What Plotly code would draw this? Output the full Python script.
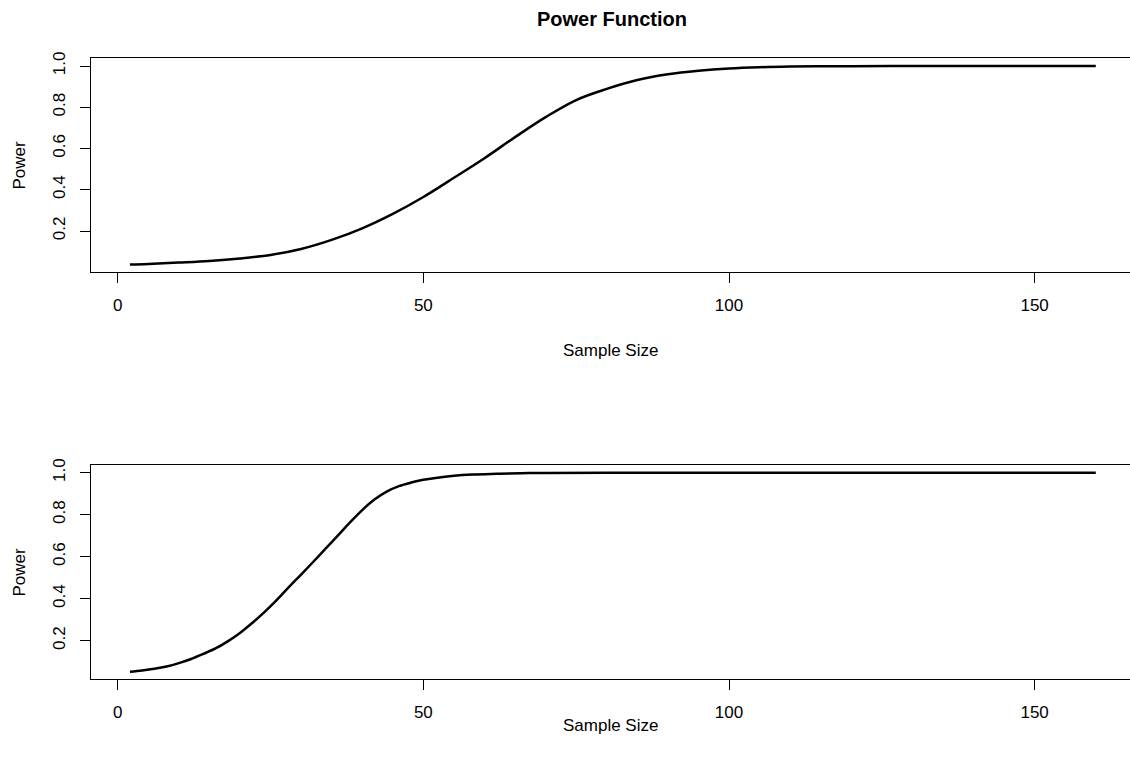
import plotly.graph_objects as go
from plotly.subplots import make_subplots

# Top panel: power vs sample size
n_top = [2, 5, 10, 15, 20, 25, 30, 35, 40, 45, 50, 55, 60, 65, 70, 75, 80, 85, 90, 95, 100, 105, 110, 115, 120, 130, 140, 150, 160]
p_top = [0.037, 0.040, 0.047, 0.055, 0.067, 0.084, 0.113, 0.157, 0.213, 0.283, 0.365, 0.458, 0.553, 0.655, 0.752, 0.835, 0.889, 0.932, 0.960, 0.977, 0.988, 0.994, 0.997, 0.9985, 0.9993, 0.9999, 1.0, 1.0, 1.0]

# Bottom panel: power vs sample size
n_bot = [2, 4, 6, 8, 10, 12, 14, 16, 18, 20, 22, 24, 26, 28, 30, 32, 34, 36, 38, 40, 42, 44, 46, 48, 50, 52, 55, 58, 62, 66, 70, 80, 100, 120, 140, 160]
p_bot = [0.052, 0.058, 0.066, 0.077, 0.093, 0.113, 0.137, 0.163, 0.197, 0.237, 0.284, 0.336, 0.393, 0.455, 0.515, 0.576, 0.638, 0.700, 0.763, 0.822, 0.872, 0.910, 0.936, 0.953, 0.966, 0.975, 0.985, 0.991, 0.995, 0.998, 0.999, 1.0, 1.0, 1.0, 1.0, 1.0]

x_ticks = [0, 50, 100, 150]
y_ticks = [0.2, 0.4, 0.6, 0.8, 1.0]
y_tick_text = ["0.2", "0.4", "0.6", "0.8", "1.0"]

W, H = 1130, 765
L, R, T, B = 91, 0, 58, 86
plot_h = H - T - B

def py_to_paper(py):
    return (H - B - py) / plot_h

def px_to_paper(px):
    return (px - L) / (W - L - R)

fig = make_subplots(rows=2, cols=1)
line_style = dict(color="black", width=2.5, shape="spline", smoothing=1.0)
fig.add_trace(go.Scatter(x=n_top, y=p_top, mode="lines", line=line_style, hoverinfo="skip"), row=1, col=1)
fig.add_trace(go.Scatter(x=n_bot, y=p_bot, mode="lines", line=line_style, hoverinfo="skip"), row=2, col=1)

font = "Liberation Sans, Arial, Helvetica, sans-serif"
xr = [(91 - 117.7) / 6.113, (1130 - 117.7) / 6.113]
axis_x = dict(range=xr, tickvals=x_ticks, ticks="outside", ticklen=10, tickcolor="black", tickwidth=1,
              showline=True, linecolor="black", linewidth=1.3, mirror=True, showgrid=False, zeroline=False,
              automargin=False, tickfont=dict(family=font, size=17, color="black"), ticklabelstandoff=7)
axis_y = dict(tickvals=y_ticks, ticktext=y_tick_text, ticks="outside", ticklen=10, tickcolor="black", tickwidth=1,
              showline=True, linecolor="black", linewidth=1.3, mirror=False, showgrid=False, zeroline=False,
              automargin=False, tickangle=-90, tickfont=dict(family=font, size=17, color="black"), ticklabelstandoff=8)

fig.update_xaxes(**axis_x)
fig.update_yaxes(**axis_y)
fig.update_layout(
    xaxis=dict(domain=[0, 1]), xaxis2=dict(domain=[0, 1]),
    yaxis=dict(domain=[py_to_paper(272), py_to_paper(58)], range=[0.00121, 1.0388]),
    yaxis2=dict(domain=[py_to_paper(679), py_to_paper(465)], range=[0.0176, 1.0367]),
)

ann = []
for ycen in (350, 726):
    ann.append(dict(text="Sample Size", x=px_to_paper(610), y=py_to_paper(ycen), xref="paper", yref="paper",
                    showarrow=False, xanchor="center", yanchor="middle", font=dict(family=font, size=17, color="black")))
for ycen in (165, 572):
    ann.append(dict(text="Power", x=px_to_paper(18.5), y=py_to_paper(ycen), xref="paper", yref="paper",
                    showarrow=False, xanchor="center", yanchor="middle", textangle=-90,
                    font=dict(family=font, size=17, color="black")))
fig.update_layout(annotations=ann)

fig.update_layout(
    width=W, height=H, margin=dict(l=L, r=R, t=T, b=B, autoexpand=False),
    plot_bgcolor="white", paper_bgcolor="white", showlegend=False, hovermode=False,
    title=dict(text="<b>Power Function</b>", x=px_to_paper(612), xref="paper", xanchor="center",
               y=1 - 19 / H, yref="container", yanchor="middle", automargin=False,
               font=dict(family=font, size=20, color="black")),
)

# Remove the browser's default 8px body margin so the figure fills the window exactly.
fig.write_html("out.html", config={"displayModeBar": False},
               post_script="document.body.style.margin='0px';document.body.style.overflow='hidden';")
